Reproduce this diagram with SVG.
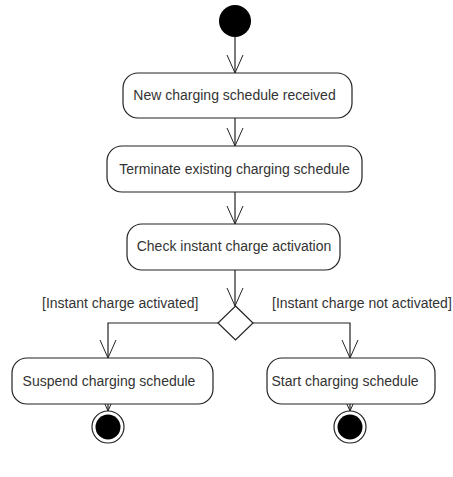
<svg xmlns="http://www.w3.org/2000/svg" width="453" height="477" viewBox="0 0 453 477">
  <defs>
    <marker id="open-arrow" viewBox="0 0 20 20" refX="18" refY="10" markerWidth="20" markerHeight="20" markerUnits="userSpaceOnUse" orient="auto">
      <path d="M0,2 L18,10 L0,18" fill="none" stroke="#222" stroke-width="1"/>
    </marker>
  </defs>
  <style>
    .action { fill: #fff; stroke: #222; stroke-width: 1.2; }
    .label { font-family: "Liberation Sans", Arial, sans-serif; font-size: 14px; fill: #333; text-anchor: middle; }
    .guard { font-family: "Liberation Sans", Arial, sans-serif; font-size: 14px; fill: #333; }
    .flow { fill: none; stroke: #222; stroke-width: 1.2; marker-end: url(#open-arrow); }
  </style>
  <rect width="453" height="477" fill="#fff"/>

  <g id="connectors">
    <path class="flow" d="M235,37 L235,73"/>
    <path class="flow" d="M235,118 L235,146"/>
    <path class="flow" d="M235,192 L235,224"/>
    <path class="flow" d="M235,270 L235,306"/>
    <path class="flow" d="M218,323 L108,323 L108,358"/>
    <path class="flow" d="M253,323 L350,323 L350,358"/>
    <path class="flow" d="M108,404 L108,411"/>
    <path class="flow" d="M350,404 L350,411"/>
    <text class="guard" x="42" y="308">[Instant charge activated]</text>
    <text class="guard" x="272" y="308">[Instant charge not activated]</text>
  </g>

  <g id="start">
    <circle cx="235" cy="21" r="16" fill="#000"/>
  </g>

  <g id="new-schedule">
    <rect class="action" x="123" y="73" width="229" height="45" rx="15"/>
    <text class="label" x="234.5" y="100">New charging schedule received</text>
  </g>

  <g id="terminate-schedule">
    <rect class="action" x="107" y="146" width="255" height="46" rx="15"/>
    <text class="label" x="234.5" y="173.5">Terminate existing charging schedule</text>
  </g>

  <g id="check-activation">
    <rect class="action" x="127" y="224" width="213" height="46" rx="15"/>
    <text class="label" x="234" y="251">Check instant charge activation</text>
  </g>

  <g id="decision">
    <polygon class="action" points="235.5,306 253,323 235.5,340 218,323"/>
  </g>

  <g id="suspend-schedule">
    <rect class="action" x="12" y="358" width="201" height="46" rx="15"/>
    <text class="label" x="109" y="386">Suspend charging schedule</text>
  </g>

  <g id="start-schedule">
    <rect class="action" x="267" y="358" width="168" height="46" rx="15"/>
    <text class="label" x="345" y="386">Start charging schedule</text>
  </g>

  <g id="end-left">
    <circle cx="108" cy="427" r="16" fill="#fff" stroke="#222" stroke-width="1.2"/>
    <circle cx="108" cy="427" r="12.5" fill="#000"/>
  </g>

  <g id="end-right">
    <circle cx="350" cy="427" r="16" fill="#fff" stroke="#222" stroke-width="1.2"/>
    <circle cx="350" cy="427" r="12.5" fill="#000"/>
  </g>
</svg>
